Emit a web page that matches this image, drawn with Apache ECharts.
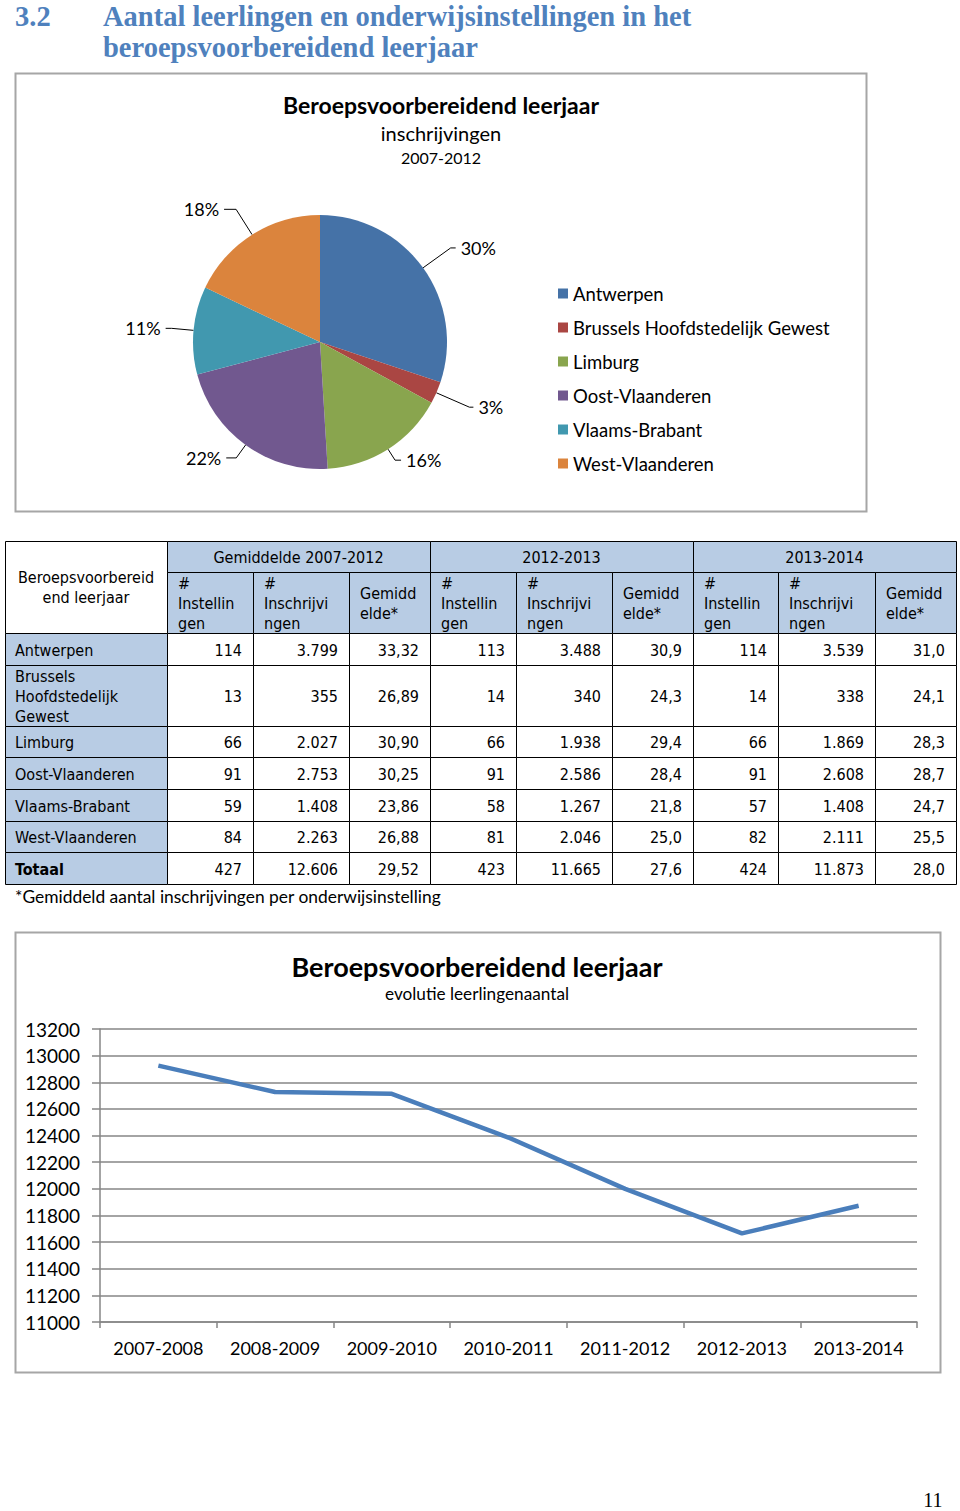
<!DOCTYPE html>
<html>
<head>
<meta charset="utf-8">
<script src="https://cdn.jsdelivr.net/npm/echarts@6/dist/echarts.min.js"></script>
<style>
html,body{margin:0;padding:0;background:#fff;}
#main{width:960px;height:1511px;}
</style>
</head>
<body>
<div id="main"></div>
<script>
// ---------- DATA ----------
const regions = ['Antwerpen','Brussels Hoofdstedelijk Gewest','Limburg','Oost-Vlaanderen','Vlaams-Brabant','West-Vlaanderen'];
const tableRowLabels = ['Antwerpen','Brussels\nHoofdstedelijk\nGewest','Limburg','Oost-Vlaanderen','Vlaams-Brabant','West-Vlaanderen','Totaal'];
const periods = ['Gemiddelde 2007-2012','2012-2013','2013-2014'];
const subHeaders = ['#\nInstellin\ngen','#\nInschrijvi\nngen','Gemidd\nelde*'];
const cornerHeader = 'Beroepsvoorbereid\nend leerjaar';

const inst0712   = [114, 13, 66, 91, 59, 84, 427];
const inschr0712 = [3799, 355, 2027, 2753, 1408, 2263, 12606];
const gem0712    = [33.32, 26.89, 30.90, 30.25, 23.86, 26.88, 29.52];
const inst1213   = [113, 14, 66, 91, 58, 81, 423];
const inschr1213 = [3488, 340, 1938, 2586, 1267, 2046, 11665];
const gem1213    = [30.9, 24.3, 29.4, 28.4, 21.8, 25.0, 27.6];
const inst1314   = [114, 14, 66, 91, 57, 82, 424];
const inschr1314 = [3539, 338, 1869, 2608, 1408, 2111, 11873];
const gem1314    = [31.0, 24.1, 28.3, 28.7, 24.7, 25.5, 28.0];

const years  = ['2007-2008','2008-2009','2009-2010','2010-2011','2011-2012','2012-2013','2013-2014'];
const totals = [12925, 12727, 12713, 12385, 12000, 11665, 11873];

const footnote = '*Gemiddeld aantal inschrijvingen per onderwijsinstelling';

// ---------- STYLE / LAYOUT ----------
const pieColors = ['#4572A7','#AA4643','#89A54E','#71588F','#4198AF','#DB843D'];
const pieLeader1 = [34, 36, 13, 16, 22, 30];   // leader line first segment per slice
const pieLeader2 = [5, 4, 6, 10, 6, 12];       // leader line second segment per slice
const headBlue = '#4F81BD';
const cellBlue = '#B8CCE4';
const chartFont = 'Lato, "Open Sans", sans-serif';
const tableFont = '"DejaVu Sans Condensed", "Liberation Sans", sans-serif';
const headFont = '"Liberation Serif", serif';
const colX = [5,167,253,349,430,516,612,693,778,875,956];
const rowY = [541,572,633,665,726,757,789,821,852,884];

function fmtInt(n){ return String(n).replace(/\B(?=(\d{3})+(?!\d))/g,'.'); }
function fmtDec(v,d){ return v.toFixed(d).replace('.',','); }

const graphic = [];
function txt(text, x, y, o){
  o = o || {};
  graphic.push({type:'text', z:10, style:{text:text, x:x, y:y,
    fill:o.fill||'#000', fontSize:o.size||16, fontFamily:o.family||chartFont,
    fontWeight:o.weight||'normal', align:o.align||'left', verticalAlign:o.valign||'middle',
    lineHeight:o.lh||undefined}});
}
function rect(x0,y0,x1,y1,fill,stroke,lw,z){
  graphic.push({type:'rect', z:z||5, shape:{x:x0+0.5,y:y0+0.5,width:x1-x0,height:y1-y0},
    style:{fill:fill, stroke:stroke, lineWidth:lw||1}});
}

// Heading
txt('3.2', 15, 16, {size:28.5, weight:'bold', family:headFont, fill:headBlue});
txt('Aantal leerlingen en onderwijsinstellingen in het', 103, 16, {size:28.5, weight:'bold', family:headFont, fill:headBlue});
txt('beroepsvoorbereidend leerjaar', 103, 47, {size:28.5, weight:'bold', family:headFont, fill:headBlue});

// Chart frames
rect(15,73,866,511,'none','#A6A6A6',2,1);
rect(15,932,940,1372,'none','#A6A6A6',2,1);

// Pie titles
txt('Beroepsvoorbereidend leerjaar', 441, 105, {size:23, weight:'bold', align:'center'});
txt('inschrijvingen', 441, 133, {size:20, align:'center'});
txt('2007-2012', 441, 157, {size:16, align:'center'});

// Line chart titles
txt('Beroepsvoorbereidend leerjaar', 477, 966, {size:27, weight:'bold', align:'center'});
txt('evolutie leerlingenaantal', 477, 993, {size:17.2, align:'center'});

// ---------- TABLE ----------
rect(colX[0], rowY[0], colX[1], rowY[2], '#fff', '#000', 1);
txt(cornerHeader, (colX[0]+colX[1])/2, (rowY[0]+rowY[2])/2, {size:16, family:tableFont, align:'center', lh:20});
periods.forEach((p,g)=>{
  rect(colX[1+3*g], rowY[0], colX[4+3*g], rowY[1], cellBlue, '#000', 1);
  txt(p, (colX[1+3*g]+colX[4+3*g])/2, (rowY[0]+rowY[1])/2+1, {size:16, family:tableFont, align:'center'});
  subHeaders.forEach((s,k)=>{
    const c = 1+3*g+k;
    rect(colX[c], rowY[1], colX[c+1], rowY[2], cellBlue, '#000', 1);
    txt(s, colX[c]+11, (rowY[1]+rowY[2])/2+1, {size:16, family:tableFont, lh:20});
  });
});
const cols = [
  inst0712.map(fmtInt), inschr0712.map(fmtInt), gem0712.map(v=>fmtDec(v,2)),
  inst1213.map(fmtInt), inschr1213.map(fmtInt), gem1213.map(v=>fmtDec(v,1)),
  inst1314.map(fmtInt), inschr1314.map(fmtInt), gem1314.map(v=>fmtDec(v,1))
];
tableRowLabels.forEach((lab,r)=>{
  const y0 = rowY[r+2], y1 = rowY[r+3], yc = (y0+y1)/2+1;
  const bold = r === tableRowLabels.length-1;
  rect(colX[0], y0, colX[1], y1, cellBlue, '#000', 1);
  txt(lab, colX[0]+10, yc, {size:16, family:tableFont, lh:20, weight: bold?'bold':'normal'});
  cols.forEach((col,c)=>{
    rect(colX[c+1], y0, colX[c+2], y1, '#fff', '#000', 1);
    txt(col[r], colX[c+2]-11, yc, {size:16, family:tableFont, align:'right'});
  });
});
txt(footnote, 15, 896, {size:17.4});

// Page number
txt('11', 933, 1500, {size:20, family:headFont, align:'center'});

// ---------- CHART ----------
const chart = echarts.init(document.getElementById('main'), null, {renderer:'svg', width:960, height:1511});
chart.setOption({
  animation:false,
  backgroundColor:'#fff',
  color: pieColors,
  legend: {
    data: regions, orient:'vertical', left:553, top:279,
    itemWidth:10, itemHeight:10, itemGap:15, icon:'rect',
    textStyle:{fontFamily:chartFont, fontSize:18.5, color:'#000'},
    selectedMode:false
  },
  grid: {left:100, top:1029, width:817, height:293, containLabel:false},
  xAxis: {
    type:'category', data: years, boundaryGap:true,
    axisLine:{lineStyle:{color:'#868686', width:1.5}},
    axisTick:{show:true, length:6, lineStyle:{color:'#868686', width:1.5}},
    axisLabel:{fontFamily:chartFont, fontSize:18, color:'#000', margin:17, interval:0}
  },
  yAxis: {
    type:'value', min:11000, max:13200, interval:200,
    axisLine:{show:true, lineStyle:{color:'#868686', width:1.5}},
    axisTick:{show:true, length:8, lineStyle:{color:'#868686', width:1.5}},
    splitLine:{lineStyle:{color:'#868686', width:1.5}},
    axisLabel:{fontFamily:chartFont, fontSize:19, color:'#000', margin:20, formatter:(v)=>String(v)}
  },
  series: [
    {
      type:'pie', center:[320,342], radius:127, startAngle:90, clockwise:true,
      percentPrecision:0, avoidLabelOverlap:false,
      data: regions.map((n,i)=>({name:n, value:inschr0712[i],
        labelLine:{length:pieLeader1[i], length2:pieLeader2[i]}})),
      label:{show:true, position:'outside', formatter:'{d}%', fontFamily:chartFont, fontSize:18, color:'#000'},
      labelLine:{show:true, lineStyle:{color:'#000', width:1}},
      emphasis:{disabled:true},
      itemStyle:{borderWidth:0}
    },
    {
      type:'line', data: totals, symbol:'none',
      lineStyle:{color:'#4A7EBB', width:4.5},
      itemStyle:{color:'#4A7EBB'},
      emphasis:{disabled:true}
    }
  ],
  graphic: graphic
});
</script>
</body>
</html>
